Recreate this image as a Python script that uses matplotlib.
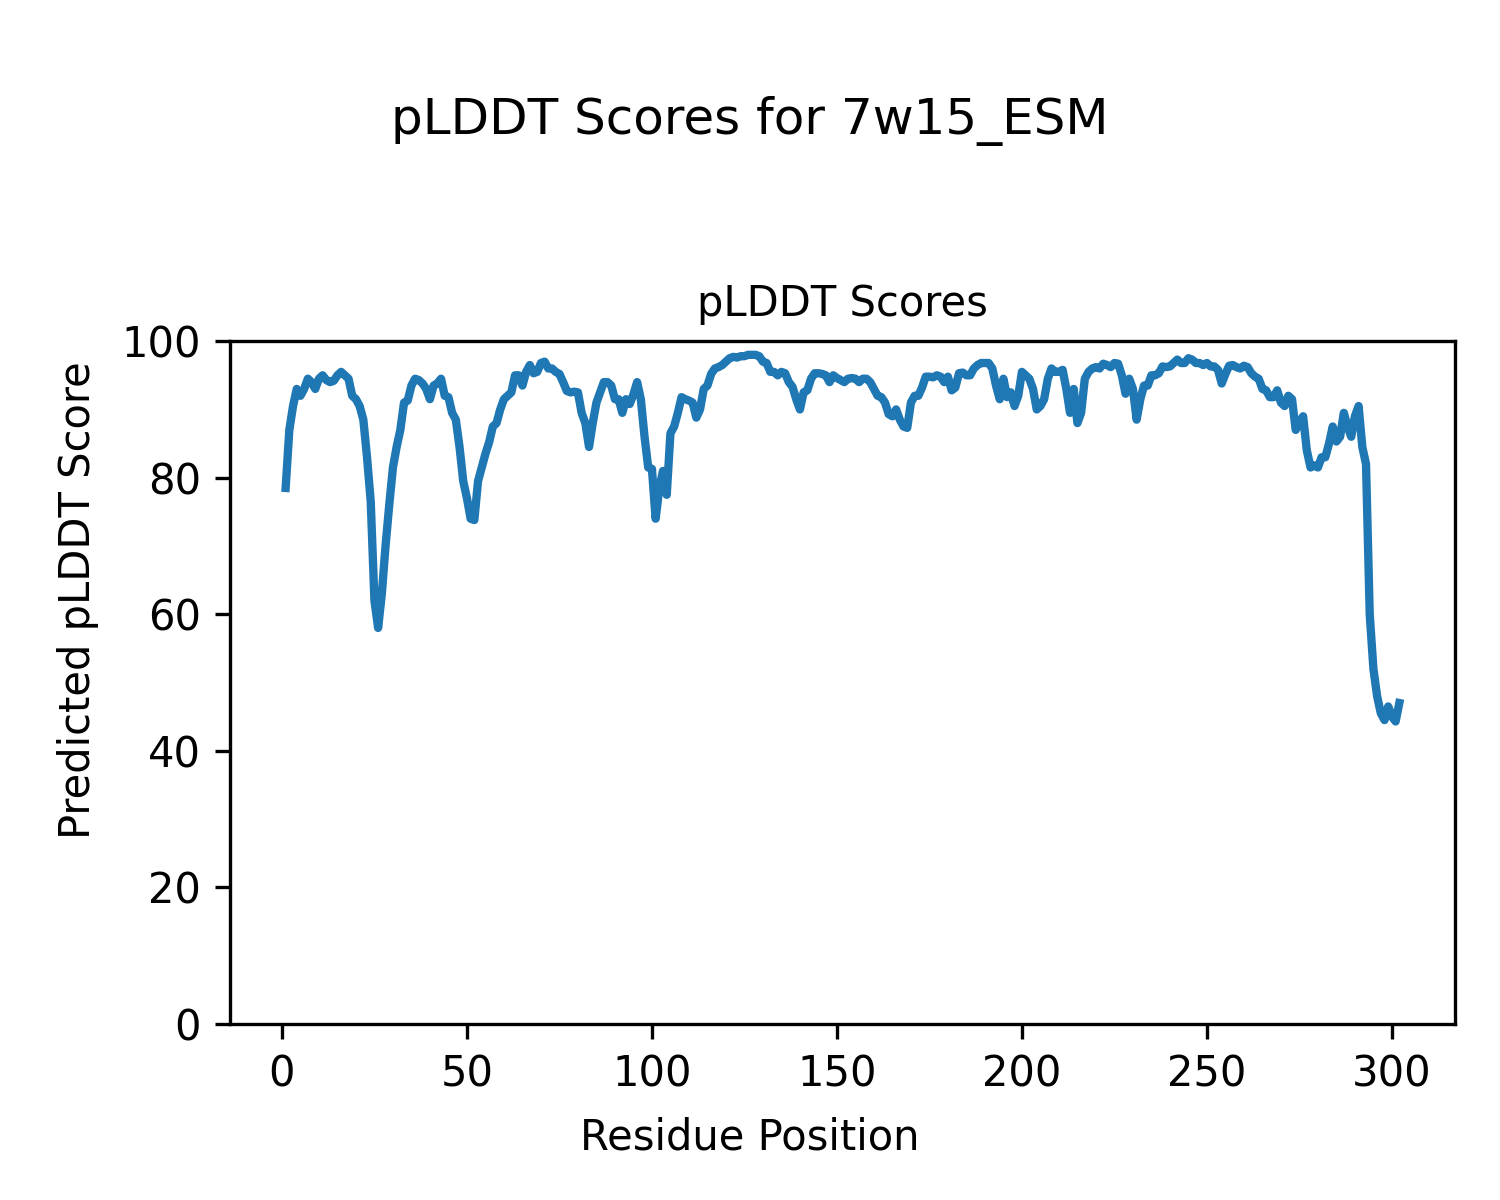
import matplotlib
matplotlib.use("Agg")
import matplotlib.pyplot as plt

# pLDDT per residue
residues = list(range(1, 303))
plddt = [
    78.5, 87.0, 90.5, 93.0, 92.0, 93.0, 94.5, 94.0, 93.0, 94.5,
    95.0, 94.3, 94.0, 94.2, 95.0, 95.5, 95.0, 94.5, 92.0, 91.5,
    90.5, 88.5, 83.0, 76.5, 62.0, 58.0, 63.0, 70.0, 76.0, 81.5,
    84.5, 87.0, 91.0, 91.3, 93.5, 94.5, 94.3, 93.8, 93.0, 91.5,
    93.5, 93.8, 94.5, 92.0, 91.8, 89.5, 88.5, 84.5, 79.5, 77.0,
    74.0, 73.8, 79.5, 81.5, 83.5, 85.2, 87.5, 88.0, 90.0, 91.5,
    92.0, 92.5, 95.0, 95.0, 93.5, 95.5, 96.5, 95.3, 95.5, 96.8,
    97.0, 96.0, 96.0, 95.5, 95.2, 94.0, 92.7, 92.5, 92.6, 92.5,
    89.5, 88.0, 84.5, 88.0, 91.0, 92.5, 94.0, 94.0, 93.5, 91.5,
    91.5, 89.5, 91.5, 90.8, 92.2, 94.0, 91.5, 86.0, 81.5, 81.3,
    74.0, 78.5, 81.0, 77.5, 86.5, 87.5, 89.5, 91.8, 91.5, 91.3,
    91.0, 88.8, 90.0, 93.0, 93.5, 95.2, 96.0, 96.2, 96.5, 97.0,
    97.5, 97.7, 97.6, 97.8, 97.8, 98.0, 98.0, 98.0, 97.8, 97.0,
    96.8, 95.5, 95.5, 95.0, 95.5, 95.3, 94.0, 93.3, 91.5, 90.0,
    92.5, 92.8, 94.5, 95.3, 95.3, 95.2, 95.0, 94.0, 95.0, 94.6,
    94.3, 94.0, 94.5, 94.6, 94.5, 94.0, 94.5, 94.5, 94.0, 93.0,
    92.0, 91.8, 91.0, 89.3, 89.0, 90.0, 88.5, 87.5, 87.3, 91.0,
    92.0, 92.0, 93.2, 94.8, 94.8, 94.7, 95.0, 94.8, 94.0, 94.8,
    92.8, 93.2, 95.3, 95.4, 95.0, 95.0, 96.0, 96.5, 96.8, 96.8,
    96.8, 96.0, 93.5, 91.5, 94.5, 91.8, 92.5, 90.5, 92.0, 95.5,
    95.0, 94.5, 93.0, 90.0, 90.5, 91.5, 94.5, 96.0, 95.5, 95.5,
    95.8, 93.0, 89.5, 93.0, 88.0, 89.5, 94.5, 95.5, 96.0, 96.2,
    96.0, 96.7, 96.5, 96.2, 96.8, 96.7, 95.0, 92.3, 94.5, 93.0,
    88.5, 91.5, 93.5, 93.5, 95.0, 95.0, 95.3, 96.3, 96.2, 96.3,
    96.8, 97.3, 96.8, 96.8, 97.5, 97.3, 96.8, 96.8, 96.5, 96.8,
    96.3, 96.3, 95.8, 93.8, 95.2, 96.4, 96.5, 96.2, 96.0, 96.4,
    96.2, 95.3, 94.8, 94.5, 93.0, 92.8, 91.8, 91.8, 92.8, 91.0,
    90.5, 92.0, 91.5, 87.0, 88.0, 89.0, 84.0, 81.5, 81.8, 81.5,
    83.0, 83.0, 85.0, 87.5, 85.3, 86.0, 89.5, 87.5, 86.0, 89.0,
    90.5, 84.5, 82.0, 60.0, 52.0, 48.0, 45.5, 44.5, 46.5, 45.0,
    44.3, 47.0,
]

fig = plt.figure(figsize=(5, 4), dpi=300)
fig.suptitle("pLDDT Scores for 7w15_ESM", y=0.92)
# axis labels sit on the figure, not the axes
fig.supxlabel("Residue Position", fontsize=10, y=0.052, va="center")
fig.supylabel("Predicted pLDDT Score", fontsize=10, x=0.052, ha="center")

ax = fig.add_axes([0.1533, 0.1467, 0.8167, 0.569])
ax.plot(residues, plddt, linewidth=2)
ax.set_ylim(0, 100)
ax.set_title("pLDDT Scores", fontsize=10)

fig.savefig("out.png")
